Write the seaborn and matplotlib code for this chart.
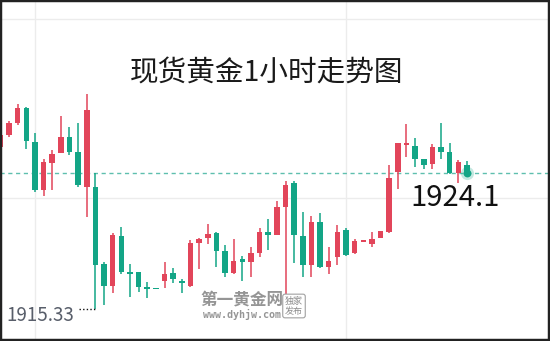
import numpy as np
import pandas as pd
import matplotlib
matplotlib.use("Agg")
import matplotlib.pyplot as plt
import seaborn as sns

# Spot gold, hourly candles (oldest -> newest)
title = "现货黄金1小时走势图"
opens = [1925.78, 1926.55, 1927.32, 1928.29, 1926.10, 1923.00, 1924.74, 1925.39, 1926.42, 1925.45,
         1923.20, 1923.20, 1918.23, 1916.81, 1920.04, 1917.72, 1917.72, 1916.75, 1916.68, 1917.14,
         1917.65, 1917.14, 1916.81, 1919.59, 1919.91, 1920.23, 1919.07, 1917.65, 1918.55, 1918.36,
         1918.94, 1920.30, 1920.10, 1921.91, 1923.46, 1920.04, 1918.17, 1920.94, 1918.04, 1918.68,
         1920.42, 1918.94, 1919.71, 1919.52, 1919.91, 1920.30, 1924.16, 1925.91, 1925.84, 1925.00,
         1924.68, 1925.78, 1925.45, 1924.10, 1924.62]
highs = [1926.68, 1927.45, 1928.55, 1928.36, 1926.68, 1925.00, 1925.58, 1927.78, 1927.07, 1927.32,
         1929.20, 1924.10, 1918.36, 1920.23, 1920.62, 1918.23, 1917.72, 1917.07, 1916.70, 1918.36,
         1917.97, 1917.26, 1919.78, 1919.91, 1920.81, 1920.30, 1919.46, 1919.84, 1918.75, 1919.33,
         1920.55, 1921.13, 1922.29, 1923.58, 1923.58, 1921.58, 1921.33, 1921.52, 1919.33, 1920.75,
         1920.55, 1919.84, 1919.76, 1920.30, 1920.36, 1924.62, 1926.03, 1927.26, 1926.36, 1925.00,
         1925.97, 1927.32, 1926.03, 1924.94, 1924.87]
lows = [1925.65, 1926.42, 1927.20, 1925.65, 1922.88, 1922.62, 1923.00, 1925.39, 1925.26, 1923.20,
        1921.26, 1915.33, 1915.59, 1916.36, 1917.59, 1916.10, 1916.43, 1916.04, 1916.64, 1916.68,
        1917.01, 1916.36, 1916.75, 1917.91, 1919.52, 1918.04, 1917.39, 1917.59, 1917.14, 1917.39,
        1918.68, 1919.13, 1920.10, 1916.30, 1918.30, 1917.39, 1917.39, 1918.00, 1917.59, 1918.17,
        1918.75, 1918.88, 1919.70, 1919.33, 1919.91, 1920.23, 1923.07, 1925.13, 1924.49, 1924.36,
        1924.36, 1925.00, 1924.04, 1923.46, 1923.97]
closes = [1926.55, 1927.32, 1928.29, 1926.16, 1923.00, 1924.81, 1925.32, 1926.42, 1925.45, 1923.33,
          1928.16, 1918.17, 1916.81, 1920.10, 1917.72, 1917.59, 1916.75, 1916.62, 1916.66, 1917.59,
          1917.26, 1917.01, 1919.59, 1919.84, 1920.17, 1919.07, 1917.65, 1918.42, 1918.36, 1918.94,
          1920.30, 1920.10, 1921.91, 1923.33, 1920.10, 1918.17, 1920.94, 1918.04, 1918.42, 1920.30,
          1918.81, 1919.71, 1919.75, 1919.84, 1920.36, 1923.78, 1926.03, 1926.03, 1925.00, 1924.62,
          1925.78, 1925.45, 1924.10, 1924.81, 1924.10]
last_price_label = "1924.1"
low_price_label = "1915.33"
grid_prices = [1934.03, 1922.49]
grid_bars = [4, 40]

RED = "#e2455a"
GREEN = "#13a586"
DASH = "#5ebfae"

sns.set_theme(style="white")
plt.rcParams["font.family"] = ["Noto Sans CJK SC", "DejaVu Sans"]

df = pd.DataFrame({"open": opens, "high": highs, "low": lows, "close": closes})
df["idx"] = np.arange(len(df))
df["up"] = df["close"] >= df["open"]
df["color"] = np.where(df["up"], RED, GREEN)

fig = plt.figure(figsize=(5.5, 3.41), dpi=100)
ax = fig.add_axes([0, 0, 1, 1])
ax.set_xlim(-0.042, 63.61)
ax.set_ylim(1913.27, 1935.26)

# light grid
ax.set_xticks(grid_bars)
ax.set_yticks(grid_prices)
ax.set_xticklabels([])
ax.set_yticklabels([])
ax.tick_params(length=0)
ax.grid(True, color="#ececec", linewidth=1.0)
ax.set_axisbelow(True)

# wicks
ax.vlines(df["idx"], df["low"], df["high"], colors=df["color"], linewidth=1.1, zorder=2)

# bodies (a minimum height keeps doji candles visible)
mid = (df["open"] + df["close"]) / 2
height = np.maximum((df["close"] - df["open"]).abs(), 0.09)
ax.bar(df["idx"], height, bottom=mid - height / 2, width=0.64,
       color=df["color"], linewidth=0, zorder=3)

# last price line
last = df.iloc[-1]
ax.axhline(last["close"], color=DASH, linewidth=1.0, linestyle=(0, (3, 2.6)), zorder=1)

# glowing marker on the latest candle
sns.scatterplot(x=[last["idx"]], y=[last["close"]], s=90, color=GREEN, alpha=0.25,
                linewidth=0, ax=ax, zorder=4, legend=False)
sns.scatterplot(x=[last["idx"]], y=[last["close"]], s=32, color=GREEN,
                linewidth=0, ax=ax, zorder=5, legend=False)

ax.annotate(last_price_label, xy=(last["idx"], last["close"]), xytext=(-12, -25),
            textcoords="offset pixels", ha="center", va="center",
            fontsize=21, color="#111111", zorder=6)

# session low marker
lo_i = int(df["low"].idxmin())
lo_v = df.loc[lo_i, "low"]
ax.plot([lo_i - 1.85, lo_i - 0.1], [lo_v, lo_v], linestyle=(0, (1, 1.6)),
        color="#111111", linewidth=1.0, zorder=4)
ax.annotate(low_price_label, xy=(lo_i, lo_v), xytext=(-55, -6),
            textcoords="offset pixels", ha="center", va="center",
            fontsize=13.5, color="#585e6a", zorder=6)

# title
fig.text(267 / 550, 1 - 74 / 341, title, ha="center", va="center",
         fontsize=20.6, fontweight="medium", color="#1a1a1a")

# site watermark
fig.text(242 / 550, 1 - 300 / 341, "第一黄金网", ha="center", va="center",
         fontsize=12, fontweight="bold", color="#8a8a8a", alpha=0.9)
fig.text(242 / 550, 1 - 314 / 341, "www.dyhjw.com", ha="center", va="center",
         fontsize=7.2, fontweight="bold", color="#8a8a8a", alpha=0.9,
         family="DejaVu Sans Mono")
fig.text(294 / 550, 1 - 306 / 341, "独家\n发布", ha="center", va="center",
         fontsize=6.5, color="#8a8a8a", linespacing=1.15,
         bbox=dict(boxstyle="round,pad=0.25", facecolor="white",
                   edgecolor="#a0a0a0", linewidth=0.8))

# frame
for s in ax.spines.values():
    s.set_visible(True)
    s.set_color("#222222")
    s.set_linewidth(3.2)
    s.set_zorder(10)

fig.savefig("out.png", dpi=100)
